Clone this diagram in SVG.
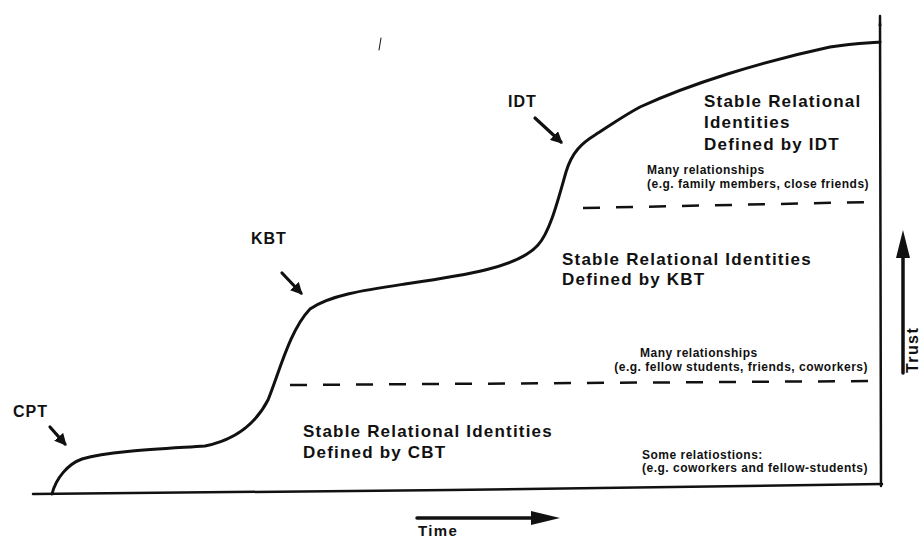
<svg xmlns="http://www.w3.org/2000/svg" width="922" height="539" viewBox="0 0 922 539">
  <defs>
    <marker id="head" viewBox="0 0 10 10" refX="8" refY="5" markerWidth="12" markerHeight="12" markerUnits="userSpaceOnUse" orient="auto">
      <path d="M0,0 L10,5 L0,10 z" fill="#111"/>
    </marker>
    <style>
      .ink { fill: none; stroke: #111; stroke-linecap: round; stroke-linejoin: round; }
      .curve { stroke-width: 3; }
      .axis { stroke-width: 2.5; }
      .dash { stroke-width: 2.5; stroke-dasharray: 17 16; stroke-linecap: butt; }
      .pointer { stroke-width: 3.2; }
      .label { font-family: "Liberation Sans", Arial, Helvetica, sans-serif; font-weight: bold; fill: #111; }
      .phase { font-size: 16px; letter-spacing: 1px; }
      .region { font-size: 17px; letter-spacing: 1.2px; }
      .note { font-size: 12px; letter-spacing: 0.5px; }
      .axislabel { font-size: 16px; letter-spacing: 1.4px; }
    </style>
  </defs>

  <rect width="922" height="539" fill="#ffffff"/>

  <!-- axes -->
  <g id="axes">
    <path class="ink axis" d="M33,494 C150,493 300,491 450,490 C600,488 760,486 882,484"/>
    <path class="ink axis" d="M880,16 L881,486"/>
    <path d="M878.5,26 Q880,12 881.5,26 Z" fill="#111"/>
  </g>

  <!-- trust development curve -->
  <g id="trust-curve">
    <path class="ink curve" d="M52,494 C56,478 68,464 82,459 C110,451 160,449 205,446 C235,440 255,425 268,400 C280,370 290,330 310,309 C330,295 365,290 405,284 C460,276 518,268 538,245 C550,232 558,200 566,172 C572,152 582,143 595,135 C615,122 625,115 640,107 C690,84 760,62 830,47 C855,43 870,43 880,42"/>
  </g>

  <!-- connectors: dashed region boundaries and pointers -->
  <g id="connectors">
    <path class="ink dash" d="M583,208 L873,202"/>
    <path class="ink dash" d="M290,385 L873,381"/>
    <line class="ink pointer" x1="50" y1="427" x2="65" y2="444" marker-end="url(#head)"/>
    <line class="ink pointer" x1="282" y1="273" x2="301" y2="293" marker-end="url(#head)"/>
    <line class="ink pointer" x1="535" y1="118" x2="561" y2="142" marker-end="url(#head)"/>
    <path class="ink" d="M381,38 L379,50" stroke-width="1" stroke="#888"/>
  </g>

  <!-- axis arrows -->
  <g id="time-arrow">
    <line class="ink" x1="417" y1="518" x2="536" y2="518" stroke-width="3.5" stroke-linecap="butt"/>
    <polygon points="531,511 560,518 531,525" fill="#111"/>
    <text class="label axislabel" x="418" y="536" style="font-size:15px">Time</text>
  </g>
  <g id="trust-arrow">
    <line class="ink" x1="903" y1="373" x2="903" y2="255" stroke-width="3.5" stroke-linecap="butt"/>
    <polygon points="896,258 903,230 910,258" fill="#111"/>
    <text class="label axislabel" transform="translate(918,373) rotate(-90)">Trust</text>
  </g>

  <!-- phase labels -->
  <g id="cpt"><text class="label phase" x="13" y="417">CPT</text></g>
  <g id="kbt"><text class="label phase" x="251" y="244">KBT</text></g>
  <g id="idt"><text class="label phase" x="508" y="107">IDT</text></g>

  <!-- region: identities defined by IDT -->
  <g id="region-idt">
    <text class="label region" x="704" y="107">Stable Relational</text>
    <text class="label region" x="704" y="128">Identities</text>
    <text class="label region" x="704" y="150">Defined by IDT</text>
    <text class="label note" x="647" y="174">Many relationships</text>
    <text class="label note" x="647" y="188">(e.g. family members, close friends)</text>
  </g>

  <!-- region: identities defined by KBT -->
  <g id="region-kbt">
    <text class="label region" x="562" y="265">Stable Relational Identities</text>
    <text class="label region" x="562" y="285">Defined by KBT</text>
    <text class="label note" x="640" y="357">Many relationships</text>
    <text class="label note" x="868" y="371" text-anchor="end">(e.g. fellow students, friends, coworkers)</text>
  </g>

  <!-- region: identities defined by CBT -->
  <g id="region-cbt">
    <text class="label region" x="303" y="437">Stable Relational Identities</text>
    <text class="label region" x="303" y="458">Defined by CBT</text>
    <text class="label note" x="642" y="459">Some relatiostions:</text>
    <text class="label note" x="642" y="472">(e.g. coworkers and fellow-students)</text>
  </g>
</svg>
